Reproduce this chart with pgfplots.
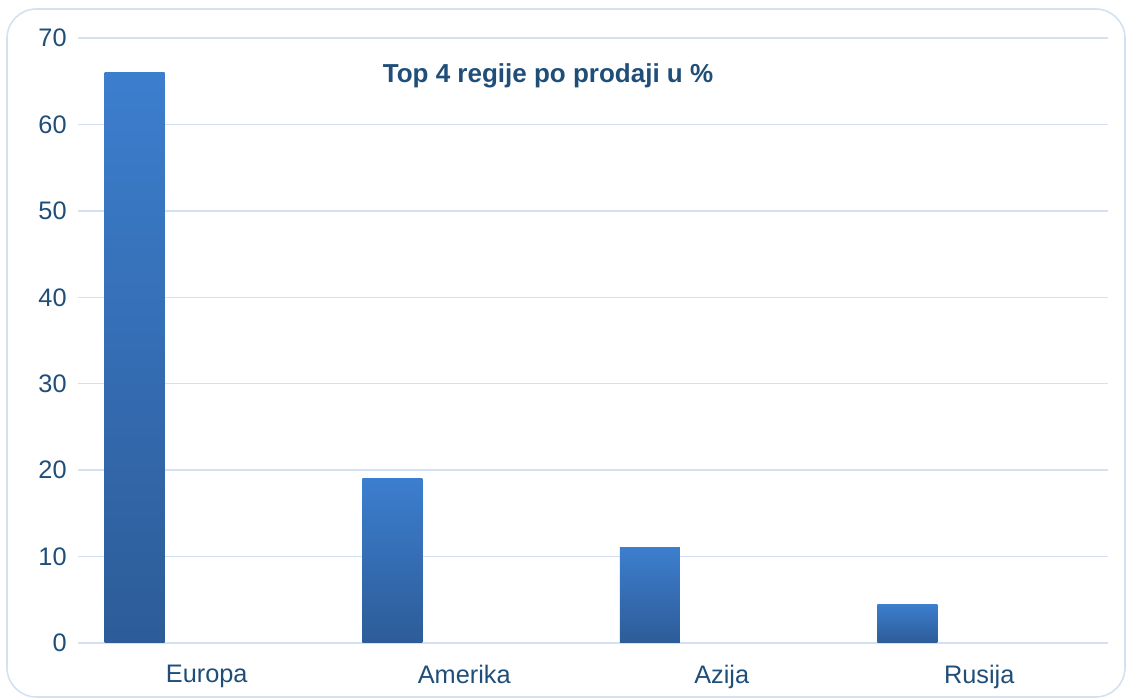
\documentclass[border=0pt]{standalone}
\usepackage{fontspec}
\setmainfont{Liberation Sans}
\usepackage{pgfplots}
\pgfplotsset{compat=1.18}
\definecolor{txt}{HTML}{1F4E79}
\definecolor{gridc}{HTML}{D3E1F3}
\definecolor{bartop}{HTML}{3C7ECE}
\definecolor{barbot}{HTML}{2D5C98}
\begin{document}
\begin{tikzpicture}[x=0.75pt,y=0.75pt]
\path (0,0) rectangle (1128,699);
\draw[gridc, line width=1.2pt, rounded corners=22pt] (7,2) rectangle (1125,690);
\begin{axis}[
  at={(58.5pt,42pt)}, anchor=south west,
  width=772.5pt, height=453.75pt, scale only axis,
  ybar, bar width=45pt,
  xmin=-0.5, xmax=3.5, ymin=0, ymax=70,
  ytick={0,10,...,70},
  xtick={0,1,2,3},
  xticklabels={Europa,Amerika,Azija,Rusija},
  axis line style={draw=none},
  tick style={draw=none},
  ymajorgrids, grid style={gridc, line width=1pt},
  ticklabel style={font=\fontsize{19}{22}\selectfont, text=txt},
  /pgf/number format/assume math mode=true,
  yticklabel style={xshift=-5pt},
  xticklabel style={yshift=-9pt},
  clip=false,
]
\addplot[draw=none, bar shift=-54pt, shading=axis, top color=bartop, bottom color=barbot]
  coordinates {(0,66)};
\addplot[draw=none, bar shift=-54pt, shading=axis, top color=bartop, bottom color=barbot]
  coordinates {(1,19)};
\addplot[draw=none, bar shift=-54pt, shading=axis, top color=bartop, bottom color=barbot]
  coordinates {(2,11)};
\addplot[draw=none, bar shift=-54pt, shading=axis, top color=bartop, bottom color=barbot]
  coordinates {(3,4.5)};
\end{axis}
\node[font=\bfseries\fontsize{19.5}{23}\selectfont, text=txt] at (548,623) {Top 4 regije po prodaji u \%};
\end{tikzpicture}
\end{document}
